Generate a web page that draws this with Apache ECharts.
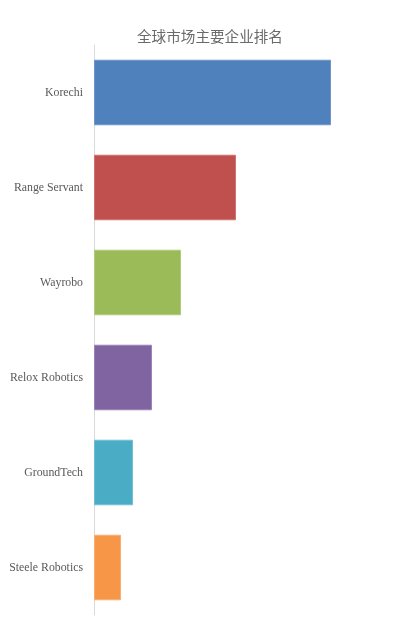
<!DOCTYPE html>
<html><head><meta charset="utf-8">
<script src="https://cdn.jsdelivr.net/npm/echarts@6/dist/echarts.min.js"></script>
<style>html,body{margin:0;padding:0;background:#fff}#c{width:397px;height:630px}</style>
</head><body><div id="c"></div>
<script>
var titleText = '全球市场主要企业排名';
var categories = ['Korechi','Range Servant','Wayrobo','Relox Robotics','GroundTech','Steele Robotics'];
var values = [237, 142, 87, 58, 39, 27];
var colors = ['#4F81BD','#C0504D','#9BBB59','#8064A2','#4BACC6','#F79646'];
var borders = ['#6f95c9','#d07270','#b0cb7c','#9a84b8','#6fbfd4','#f9ad73'];

var chart = echarts.init(document.getElementById('c'));
chart.setOption({
  animation: false,
  title: {
    text: titleText, left: 132, top: 24,
    textStyle: {fontFamily: 'Noto Sans CJK SC', fontSize: 14.6, fontWeight: 'normal', color: '#6a6a6a'}
  },
  grid: {left: 94, top: 45, width: 300, bottom: 15, containLabel: false},
  xAxis: {type: 'value', min: 0, max: 300, show: false},
  yAxis: {
    type: 'category', data: categories, inverse: true,
    axisLine: {show: true, lineStyle: {color: '#d9d9d9', width: 1}},
    axisTick: {show: false},
    axisLabel: {margin: 11, fontFamily: 'Liberation Serif', fontSize: 11.8, color: '#595959'}
  },
  series: [{
    type: 'bar', barCategoryGap: '31%',
    data: values.map(function(v,i){return {value: v, itemStyle: {color: colors[i], borderColor: borders[i], borderWidth: 1}};})
  }]
});
</script></body></html>
